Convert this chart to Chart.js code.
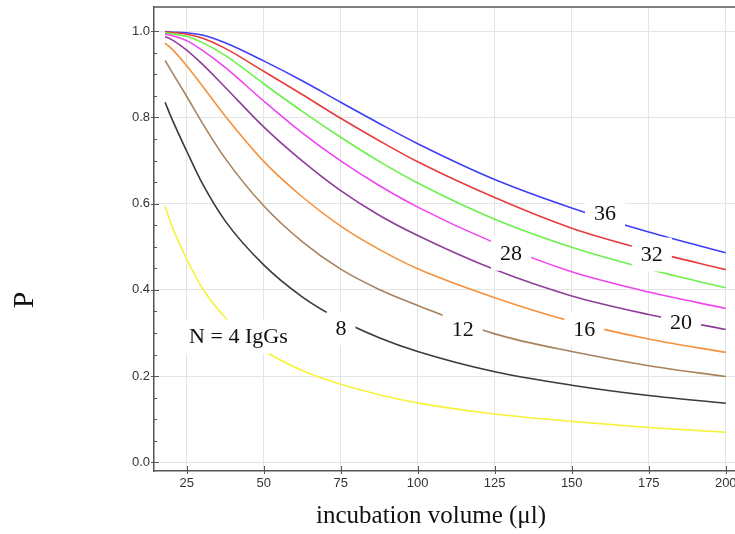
<!DOCTYPE html>
<html>
<head>
<meta charset="utf-8">
<script src="https://cdn.jsdelivr.net/npm/chart.js@4.4.1/dist/chart.umd.min.js"></script>
<style>
  html, body { margin: 0; padding: 0; background: #fff; }
  canvas { display: block; }
</style>
</head>
<body>
<canvas id="chart" width="735" height="534"></canvas>
<script>
// incubation volume (µl) at which each curve was read
const volumes = [18, 20, 25, 30, 37.5, 50, 62.5, 75, 87.5, 100, 125, 150, 175, 200];

// P for each number of IgGs
const pN4  = [0.594, 0.552, 0.472, 0.405, 0.336, 0.260, 0.213, 0.181, 0.157, 0.138, 0.112, 0.095, 0.081, 0.070];
const pN8  = [0.835, 0.800, 0.722, 0.648, 0.560, 0.458, 0.384, 0.330, 0.289, 0.257, 0.210, 0.179, 0.155, 0.137];
const pN12 = [0.932, 0.908, 0.849, 0.788, 0.705, 0.595, 0.512, 0.448, 0.401, 0.364, 0.298, 0.257, 0.224, 0.199];
const pN16 = [0.972, 0.960, 0.920, 0.874, 0.803, 0.698, 0.616, 0.548, 0.494, 0.449, 0.382, 0.327, 0.286, 0.255];
const pN20 = [0.987, 0.981, 0.956, 0.924, 0.870, 0.778, 0.699, 0.630, 0.573, 0.526, 0.447, 0.386, 0.343, 0.308];
const pN24 = [0.993, 0.990, 0.978, 0.956, 0.916, 0.838, 0.764, 0.699, 0.642, 0.592, 0.509, 0.442, 0.395, 0.357];
const pN28 = [0.996, 0.994, 0.988, 0.974, 0.944, 0.878, 0.814, 0.754, 0.698, 0.648, 0.564, 0.499, 0.448, 0.405];
const pN32 = [0.998, 0.997, 0.993, 0.984, 0.960, 0.907, 0.853, 0.798, 0.746, 0.697, 0.614, 0.543, 0.491, 0.447];
const pN36 = [0.999, 0.998, 0.996, 0.991, 0.973, 0.931, 0.885, 0.835, 0.786, 0.739, 0.656, 0.590, 0.534, 0.486];

const seriesNames = ['N = 4', 'N = 8', 'N = 12', 'N = 16', 'N = 20', 'N = 24', 'N = 28', 'N = 32', 'N = 36'];
const seriesValues = [pN4, pN8, pN12, pN16, pN20, pN24, pN28, pN32, pN36];
const seriesColors = ['#f7f23c', '#3a3a3a', '#a8825c', '#f5913c', '#8e3d98', '#f044f0', '#6cf04c', '#e83c3c', '#3e3ef8'];

const xTickValues = [25, 50, 75, 100, 125, 150, 175, 200];
const yTickValues = [0, 0.2, 0.4, 0.6, 0.8, 1.0];

// in-plot curve labels (text and where they sit, in data units)
const curveLabels = ['N = 4 IgGs', '8', '12', '16', '20', '28', '32', '36'];
const curveLabelX = [41.8, 75.1, 114.6, 154.1, 185.5, 130.3, 176.0, 160.8];
const curveLabelY = [0.292, 0.310, 0.309, 0.309, 0.326, 0.484, 0.482, 0.577];

const frameColor = '#555';

// top frame, minor ticks, white-boxed curve labels and the axis titles
const framePlugin = {
    id: 'framePlugin',
    afterDatasetsDraw(chart) {
        const { ctx, chartArea: area, scales: { x, y } } = chart;
        ctx.save();

        ctx.strokeStyle = frameColor;
        ctx.lineWidth = 1.5;
        ctx.beginPath();
        ctx.moveTo(area.left, area.top);
        ctx.lineTo(area.right, area.top);
        ctx.stroke();

        // y ticks every 0.05, longer on the major ones
        ctx.lineWidth = 1;
        for (let v = 0; v <= 1.05; v += 0.05) {
            const py = Math.round(y.getPixelForValue(v)) + 0.5;
            const major = Math.abs(v * 5 - Math.round(v * 5)) < 1e-6;
            ctx.beginPath();
            ctx.moveTo(area.left - (major ? 3 : 0), py);
            ctx.lineTo(area.left + (major ? 5 : 3), py);
            ctx.stroke();
        }
        xTickValues.forEach(v => {
            const px = Math.round(x.getPixelForValue(v)) + 0.5;
            ctx.beginPath();
            ctx.moveTo(px, area.bottom + 3);
            ctx.lineTo(px, area.bottom - 5);
            ctx.stroke();
        });

        ctx.font = '22px "Liberation Serif", "Times New Roman", serif';
        ctx.textAlign = 'center';
        ctx.textBaseline = 'middle';
        curveLabels.forEach((text, i) => {
            const px = x.getPixelForValue(curveLabelX[i]);
            const py = y.getPixelForValue(curveLabelY[i]);
            const w = ctx.measureText(text).width + 18;
            ctx.fillStyle = '#fff';
            ctx.fillRect(px - w / 2, py - 17, w, 34);
            ctx.fillStyle = '#111';
            ctx.fillText(text, px, py + 1);
        });
        ctx.restore();
    },
    afterDraw(chart) {
        const { ctx } = chart;
        ctx.save();
        ctx.fillStyle = '#111';
        ctx.textAlign = 'center';
        ctx.textBaseline = 'alphabetic';

        ctx.font = '25px "Liberation Serif", "Times New Roman", serif';
        ctx.fillText('incubation volume (\u03bcl)', 431, 523);

        ctx.font = '30px "Liberation Serif", "Times New Roman", serif';
        ctx.translate(33, 300);
        ctx.rotate(-Math.PI / 2);
        ctx.fillText('P', 0, 0);
        ctx.restore();
    }
};

const datasets = seriesValues.map((vals, i) => ({
    label: seriesNames[i],
    data: volumes.map((v, j) => ({ x: v, y: vals[j] })),
    borderColor: seriesColors[i],
    borderWidth: 1.6,
    pointRadius: 0,
    fill: false,
    cubicInterpolationMode: 'monotone'
}));

new Chart(document.getElementById('chart').getContext('2d'), {
    type: 'line',
    data: { datasets: datasets },
    options: {
        responsive: false,
        animation: false,
        devicePixelRatio: 1,
        layout: { padding: { top: 7, left: 0, right: 0, bottom: 0 } },
        plugins: {
            legend: { display: false },
            tooltip: { enabled: false },
            title: { display: false }
        },
        scales: {
            x: {
                type: 'linear',
                min: 14.4,
                max: 203,
                afterBuildTicks: scale => { scale.ticks = xTickValues.map(v => ({ value: v })); },
                afterFit: scale => {
                    scale.height = 63;
                    scale.paddingLeft = 0;
                    scale.paddingRight = 0;
                },
                grid: { color: '#e4e4e4', lineWidth: 1, drawTicks: false },
                border: { display: true, color: frameColor, width: 1.5 },
                ticks: {
                    padding: 5,
                    color: '#333',
                    maxRotation: 0,
                    autoSkip: false,
                    font: { family: '"Liberation Sans", Arial, sans-serif', size: 13 }
                }
            },
            y: {
                type: 'linear',
                min: -0.02,
                max: 1.056,
                afterBuildTicks: scale => { scale.ticks = yTickValues.map(v => ({ value: v })); },
                afterFit: scale => {
                    scale.width = 154;
                    scale.paddingTop = 0;
                    scale.paddingBottom = 0;
                },
                grid: { color: '#e4e4e4', lineWidth: 1, drawTicks: false },
                border: { display: true, color: frameColor, width: 1.5 },
                ticks: {
                    padding: 4,
                    color: '#333',
                    autoSkip: false,
                    font: { family: '"Liberation Sans", Arial, sans-serif', size: 13 },
                    callback: v => Number(v).toFixed(1)
                }
            }
        }
    },
    plugins: [framePlugin]
});
</script>
</body>
</html>
